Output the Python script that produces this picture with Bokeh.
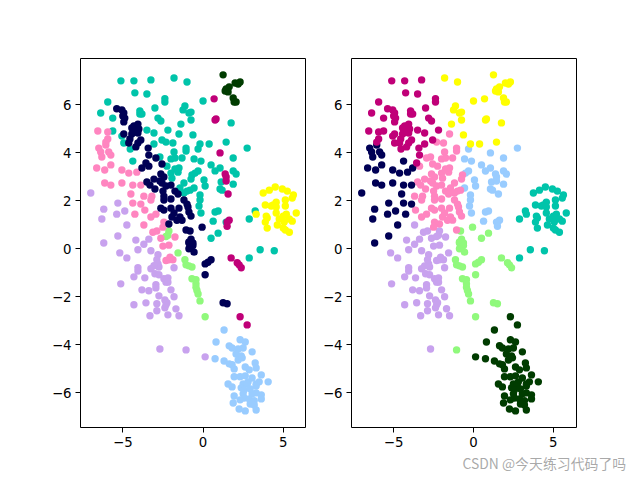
from bokeh.plotting import figure
from bokeh.layouts import row
from bokeh.models import FixedTicker, Title
from bokeh.embed import file_html
from bokeh.resources import INLINE

# Colours of the clusters
TEAL, DGREEN, MAGENTA, NAVY = "#00C4AA", "#003C00", "#C00078", "#000055"
PINK, YELLOW, LILAC, LGREEN, LBLUE = "#FF85C0", "#FFFF00", "#C8A2EE", "#90F97C", "#99CCFF"

# Points, named <left-panel cluster>_<right-panel cluster>
teal_magenta_x = [-5.12,-4.31,-3.25,-4.25,-3.50,-2.38,-2.38,-5.94,-6.38,-5.63,-3.94,-3.81,-3.94,-3.00,-2.81,-2.63,-3.50,-5.63,-3.06,-2.19,-5.06,-4.94,-2.56,-3.06,-4.54]
teal_magenta_y = [6.99,6.99,7.03,6.49,6.44,6.25,6.11,6.11,5.65,5.44,5.74,5.61,5.61,5.86,5.44,5.32,4.94,4.90,4.82,4.94,4.69,4.40,4.53,4.36,4.15]
teal_yellow_x = [-1.81,-1.00,0.00,-1.13,-1.25,-0.75,-0.88,-0.75,-1.38,1.75,-0.63,-0.19,0.38,1.44]
teal_yellow_y = [7.11,6.94,6.15,5.94,5.78,5.69,5.65,5.36,5.19,5.24,4.74,4.36,4.36,4.44]
teal_lblue_x = [-0.31,2.75,1.88,-0.56,-0.13,0.50,1.06,0.75,1.88,2.06,-0.31,-0.50,0.06,0.13,1.13,1.88,-0.56,1.06,1.19,-0.19,-0.19,-0.25,-0.13,0.75,0.94,0.63,1.44]
teal_lblue_y = [4.15,4.19,3.78,3.74,3.65,3.49,3.36,3.24,3.24,3.11,3.24,3.15,2.86,2.61,2.78,2.69,2.53,2.49,2.44,2.24,2.03,1.78,1.49,1.53,1.57,1.15,1.11]
teal_pink_x = [-1.50,-2.31,-1.88,-1.06,-1.06,-1.81,-2.69,-2.00,-1.75,-1.31,-2.25,-1.50,-1.75,-2.00,-1.56,-1.94,-0.69,-0.75,-1.19,-1.44,-0.81,-1.00,-1.19]
teal_pink_y = [4.78,4.44,4.40,4.19,4.07,4.03,3.82,3.74,3.78,3.78,3.44,3.36,3.32,3.15,3.19,2.94,3.07,2.90,2.74,2.53,2.44,2.40,2.32]
teal_lgreen_x = [0.94,0.50]
teal_lgreen_y = [0.65,0.44]
teal_navy_x = [-4.38]
teal_navy_y = [3.65]
teal_teal_x = [2.88,3.25,3.56,4.44,2.88]
teal_teal_y = [1.24,1.57,-0.04,-0.08,-0.38]
navy_magenta_x = [-5.38,-5.06,-4.94,-5.00,-4.88,-4.94,-4.06,-4.31,-4.44,-4.00,-4.06,-4.25,-4.94,-4.44,-4.56,-4.63,-3.88,-4.06,-4.19,-3.42,-3.38,-3.56]
navy_magenta_y = [5.83,5.78,5.65,5.53,5.44,5.28,5.19,5.11,5.03,4.99,4.82,4.86,4.78,4.78,4.57,4.40,4.53,4.40,4.24,4.19,3.90,3.57]
navy_pink_x = [-2.94,-3.38,-2.56,-2.63,-2.44,-3.06,-2.69,-3.50,-3.31,-3.00,-2.56,-2.31,-2.50,-2.00,-1.75,-1.56,-2.44,-2.44,-2.00,-2.63,-2.44,-2.00,-1.50,-1.19,-1.00,-0.94,-1.81,-1.94,-1.44,-1.63,-1.31,-0.88,-0.75,-2.13,-1.06]
navy_pink_y = [3.78,3.44,3.53,3.11,2.99,2.90,2.82,2.78,2.65,2.49,2.74,2.61,2.40,2.65,2.40,2.28,2.19,2.03,2.07,1.69,1.61,1.69,1.69,2.03,1.86,1.74,1.49,1.32,1.32,1.19,1.19,1.53,1.36,1.03,0.78]
navy_navy_x = [-3.81]
navy_navy_y = [3.36]
navy_lgreen_x = [-0.06,-0.81,-0.75,-0.63,-0.75,-0.88,-0.88,-0.63,-0.56,-0.88,0.13,0.31,0.50,0.13,1.25,1.50]
navy_lgreen_y = [0.90,0.74,0.40,0.24,0.11,0.24,0.28,0.14,-0.14,0.00,-0.63,-0.56,-0.46,-1.08,-2.25,-2.29]
pink_navy_x = [-6.50,-6.38,-6.31,-5.88,-5.75,-5.75,-6.63,-6.13,-5.06,-4.63,-4.13,-6.13,-5.75,-5.06,-4.38,-3.88,-4.50,-4.38,-3.88,-4.25,-6.06]
pink_navy_y = [4.19,4.03,3.82,4.03,3.90,3.49,3.36,3.28,3.28,3.15,3.19,2.74,2.65,2.74,2.65,2.65,2.28,1.90,1.86,1.44,4.32]
pink_magenta_x = [-6.56,-5.94,-5.94,-6.06]
pink_magenta_y = [4.90,4.86,4.57,4.44]
pink_pink_x = [-3.69,-3.19,-3.25,-3.63,-2.94,-3.25,-2.44,-2.50]
pink_pink_y = [2.19,2.19,2.03,1.61,1.44,1.32,1.11,0.90]
pink_lilac_x = [-3.69,-3.13,-2.88,-2.63,-1.75,-2.50,-2.13,-2.13,-2.31,-1.88,-2.06]
pink_lilac_y = [0.99,0.69,0.74,0.44,0.49,0.11,0.15,-0.46,-0.49,-0.46,-0.35]
lgreen_lilac_x = [-2.13,-2.19,-2.31,-1.56]
lgreen_lilac_y = [0.74,0.56,0.51,-0.17]
lgreen_lgreen_x = [-1.13,-1.06,-0.88,-0.69,-0.69,-0.44,-0.44,-0.44,-0.38,-0.31,-0.19,0.13]
lgreen_lgreen_y = [-0.46,-0.67,-0.71,-0.76,-1.25,-1.29,-1.46,-1.60,-1.74,-1.88,-2.17,-2.83]
lilac_navy_x = [-7.00,-6.19,-6.31,-5.31,-4.88,-5.38,-4.75,-5.31,-6.19]
lilac_navy_y = [2.32,1.65,1.24,1.90,1.57,1.44,0.99,0.53,0.24]
lilac_lilac_x = [-4.19,-3.69,-3.38,-5.19,-4.75,-4.06,-3.25,-2.81,-2.88,-2.81,-2.75,-3.06,-3.25,-4.06,-4.06,-1.81,-4.31,-3.63,-3.00,-2.75,-2.44,-2.19,-2.31,-2.19,-5.13,-2.94,-2.94,-3.81,-3.38,-2.00,-2.75,-1.81,-2.38,-2.25,-2.31,-3.56,-4.31,-2.88,-2.38,-2.88,-1.69,-3.31,-2.19,-1.50,-2.69]
lilac_lilac_y = [0.36,0.19,0.40,-0.17,-0.38,-0.04,-0.08,-0.25,-0.46,-0.63,-0.76,-0.71,-0.83,-0.79,-0.93,-0.79,-1.17,-1.21,-1.04,-1.08,-1.25,-1.21,-1.39,-1.39,-1.46,-1.50,-1.63,-1.71,-1.75,-1.71,-1.96,-2.00,-2.13,-2.25,-2.33,-2.25,-2.33,-2.29,-2.46,-2.58,-2.50,-2.79,-2.75,-2.79,-4.17]
lilac_lgreen_x = [-1.06]
lilac_lgreen_y = [-4.21]
lilac_dgreen_x = [0.13]
lilac_dgreen_y = [-4.50]
lblue_dgreen_x = [1.31,0.81,2.31,2.63,1.63,1.81,2.19,2.50,3.06,2.06,2.38,2.19,2.44,0.75,1.31,1.63,1.81,1.94,2.63,2.88,3.25,3.31,3.63,1.94,2.31,2.63,3.06,2.81,3.31,3.50,4.06,1.56,1.81,2.50,2.75,2.38,2.56,2.94,3.31,2.50,1.94,2.56,2.31,1.88,3.06,2.88,3.31,3.63,3.63,3.19,2.94,3.19,2.25,2.63,3.31]
lblue_dgreen_y = [-3.38,-3.88,-3.79,-3.88,-4.04,-4.13,-4.17,-4.13,-4.29,-4.38,-4.46,-4.63,-4.54,-4.58,-4.67,-4.79,-4.83,-5.00,-4.92,-5.04,-4.75,-4.96,-5.25,-5.33,-5.33,-5.29,-5.38,-5.54,-5.63,-5.54,-5.54,-5.63,-5.75,-5.63,-5.63,-5.79,-5.88,-5.83,-5.71,-6.04,-6.13,-6.21,-6.29,-6.42,-6.04,-6.25,-6.00,-6.08,-6.25,-6.32,-6.46,-6.50,-6.67,-6.75,-6.71]
magenta_dgreen_x = [2.31,2.75]
magenta_dgreen_y = [-2.83,-3.17]
magenta_lgreen_x = [1.75,2.13,2.25,2.38]
magenta_lgreen_y = [-0.38,-0.58,-0.67,-0.79]
magenta_yellow_x = [0.69,0.75,0.81]
magenta_yellow_y = [6.24,5.36,5.40]
magenta_lblue_x = [1.06,1.38,1.44,1.44,1.56,1.63,1.50,1.50]
magenta_lblue_y = [3.99,3.11,2.99,2.82,2.28,1.19,1.11,0.94]
dgreen_yellow_x = [1.25,2.00,2.19,2.31,1.44,1.63,1.38,1.56,1.88,1.94,2.06]
dgreen_yellow_y = [7.24,6.90,6.86,6.94,6.65,6.74,6.57,6.53,6.28,6.11,6.11]
yellow_teal_x = [3.75,4.13,4.50,4.94,5.25,5.63,5.56,5.13,4.56,3.88,4.25,4.38,4.56,5.13,4.56,3.31,3.94,4.00,3.88,4.00,4.63,4.75,5.00,5.19,5.81,5.56,5.06,5.38,5.00,5.13,5.38]
yellow_teal_y = [2.32,2.44,2.57,2.49,2.40,2.24,2.11,2.03,1.94,1.82,1.78,1.82,1.74,1.78,1.49,1.44,1.36,1.28,1.11,0.86,0.99,1.24,1.36,1.44,1.49,1.15,1.11,1.24,0.86,0.78,0.69]

groups = [
    (TEAL, MAGENTA, teal_magenta_x, teal_magenta_y),
    (TEAL, YELLOW, teal_yellow_x, teal_yellow_y),
    (TEAL, LBLUE, teal_lblue_x, teal_lblue_y),
    (TEAL, PINK, teal_pink_x, teal_pink_y),
    (TEAL, LGREEN, teal_lgreen_x, teal_lgreen_y),
    (TEAL, NAVY, teal_navy_x, teal_navy_y),
    (TEAL, TEAL, teal_teal_x, teal_teal_y),
    (NAVY, MAGENTA, navy_magenta_x, navy_magenta_y),
    (NAVY, PINK, navy_pink_x, navy_pink_y),
    (NAVY, NAVY, navy_navy_x, navy_navy_y),
    (NAVY, LGREEN, navy_lgreen_x, navy_lgreen_y),
    (PINK, NAVY, pink_navy_x, pink_navy_y),
    (PINK, MAGENTA, pink_magenta_x, pink_magenta_y),
    (PINK, PINK, pink_pink_x, pink_pink_y),
    (PINK, LILAC, pink_lilac_x, pink_lilac_y),
    (LGREEN, LILAC, lgreen_lilac_x, lgreen_lilac_y),
    (LGREEN, LGREEN, lgreen_lgreen_x, lgreen_lgreen_y),
    (LILAC, NAVY, lilac_navy_x, lilac_navy_y),
    (LILAC, LILAC, lilac_lilac_x, lilac_lilac_y),
    (LILAC, LGREEN, lilac_lgreen_x, lilac_lgreen_y),
    (LILAC, DGREEN, lilac_dgreen_x, lilac_dgreen_y),
    (LBLUE, DGREEN, lblue_dgreen_x, lblue_dgreen_y),
    (MAGENTA, DGREEN, magenta_dgreen_x, magenta_dgreen_y),
    (MAGENTA, LGREEN, magenta_lgreen_x, magenta_lgreen_y),
    (MAGENTA, YELLOW, magenta_yellow_x, magenta_yellow_y),
    (MAGENTA, LBLUE, magenta_lblue_x, magenta_lblue_y),
    (DGREEN, YELLOW, dgreen_yellow_x, dgreen_yellow_y),
    (YELLOW, TEAL, yellow_teal_x, yellow_teal_y),
]

x_ticks = [-5, 0, 5]
y_ticks = [-6, -4, -2, 0, 2, 4, 6]
left_order = [LILAC, TEAL, LGREEN, LBLUE, PINK, NAVY, MAGENTA, DGREEN, YELLOW]
right_order = [LILAC, LGREEN, LBLUE, PINK, NAVY, MAGENTA, YELLOW, TEAL, DGREEN]


def panel(width, border_left, border_right, idx, order):
    p = figure(width=width, height=480, output_backend="svg", toolbar_location=None,
               x_range=(-7.64, 6.45), y_range=(-7.44, 7.92),
               min_border_left=border_left, min_border_right=border_right,
               min_border_top=58, min_border_bottom=53)
    p.grid.visible = False
    p.outline_line_color = "black"
    p.outline_line_width = 1
    p.background_fill_color = "white"
    p.border_fill_color = "white"
    for ax, ticks in ((p.xaxis[0], x_ticks), (p.yaxis[0], y_ticks)):
        ax.ticker = FixedTicker(ticks=ticks)
        ax.major_label_overrides = {t: str(t).replace("-", "\u2212") for t in ticks}
        ax.major_label_text_font = "DejaVu Sans"
        ax.major_label_text_font_size = "13.3px"
        ax.major_label_text_color = "black"
        ax.major_tick_in = 0
        ax.major_tick_out = 5
        ax.minor_tick_line_color = None
        ax.axis_line_color = None
        ax.major_tick_line_color = "black"
        ax.major_label_standoff = 4
    for colour in order:
        xs, ys = [], []
        for g in groups:
            if g[idx] == colour:
                xs += g[2]
                ys += g[3]
        p.scatter(xs, ys, size=7.4, fill_color=colour, line_color=None)
    return p


p1 = panel(306, 80, 0, 0, left_order)
p2 = panel(334, 45, 64, 1, right_order)
p2.add_layout(Title(text="CSDN @今天练习代码了吗", text_color="#9a9a9a", text_alpha=0.85,
                    text_font="Noto Sans CJK SC", text_font_size="13.9px", text_font_style="normal",
                    align="left", offset=111, standoff=2), "below")

page = row(p1, p2, spacing=0)
open("out.html", "w").write(file_html(page, INLINE))
